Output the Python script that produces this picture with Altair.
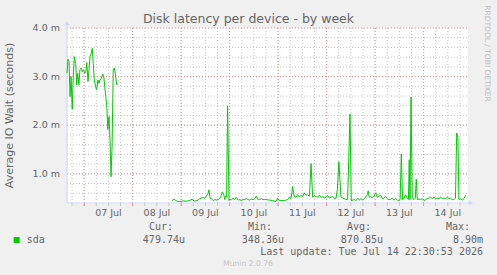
import altair as alt
import pandas as pd

# ---- data (hours relative to 07 Jul 00:00, value in milliseconds) ----
hours_a = [-8.5, -8.0, -7.5, -7.0, -6.5, -5.9, -5.4, -4.9, -4.2, -3.7, -3.2, -2.6, -2.1, -1.4, -0.9,
           -0.4, 0.3, 0.8, 1.3, 1.9, 2.4, 2.9, 3.5, 4.0, 4.5, 5.0, 5.7, 6.2, 6.8, 7.3, 7.8, 8.5,
           9.2, 9.7, 10.2, 10.7, 11.2, 11.7, 12.3, 12.8, 13.3, 13.8, 14.4, 14.9, 15.4, 16.1, 16.6]
wait_a = [3.07, 3.36, 3.31, 2.59, 3.00, 2.33, 3.00, 3.41, 3.27, 2.83, 3.07, 2.83, 3.14, 3.18, 3.10,
          3.14, 3.07, 3.10, 3.29, 2.90, 3.14, 3.41, 3.48, 3.58, 3.27, 2.93, 2.79, 2.73, 2.93, 2.86, 2.93, 2.97,
          3.05, 3.00, 2.79, 2.59, 2.38, 1.91, 2.18, 1.70, 0.94, 1.56, 3.14, 3.18, 3.07, 2.84, 2.84]

hours_b = [43.5, 44.5, 45.1, 46.1, 47.3, 48.9, 50.6, 52.2, 53.5, 54.4, 56.0, 57.2, 58.0, 58.8, 59.7,
           60.5, 61.3, 61.8, 62.3, 63.0, 63.8, 64.6, 65.4, 66.3, 67.1, 67.9, 68.4, 69.1, 69.6, 70.0,
           70.5, 71.0, 71.7, 72.2, 72.9, 73.7, 74.5, 75.3, 76.2, 77.0, 77.8, 78.6, 79.5, 80.3, 81.1,
           81.9, 82.8, 83.6, 84.4, 85.2, 86.1, 86.9, 87.7, 88.5, 89.4, 90.0, 91.7, 93.3, 95.0, 95.8,
           96.3, 97.4, 99.1, 100.7, 101.6, 102.4, 103.2, 103.9, 104.9, 105.7, 106.5, 107.3, 108.2, 109.0, 109.8,
           110.6, 111.5, 112.3, 113.1, 113.9, 114.8, 115.6, 116.4, 117.2, 118.1, 118.9, 119.7, 120.5, 121.4, 122.2,
           123.0, 123.8, 124.7, 125.3, 126.1, 127.1, 128.0, 128.8, 129.6, 130.4, 131.6, 132.2, 133.7, 134.6, 135.4,
           136.2, 137.0, 137.9, 138.5, 139.3, 140.2, 140.6, 141.1, 141.8, 142.6, 143.5, 144.3, 145.1, 145.9, 146.8,
           147.6, 148.4, 149.2, 150.1, 150.9, 151.7, 152.5, 153.4, 154.2, 155.0, 155.8, 156.4, 157.0, 157.6, 158.3,
           159.1, 160.0, 160.5, 160.9, 161.3, 161.8, 162.4, 163.2, 163.9, 164.4, 164.9, 165.7, 166.5, 167.4, 168.2,
           169.0, 169.9, 170.7, 171.5, 172.3, 173.2, 174.0, 174.8, 175.6, 176.5, 177.3, 178.1, 178.9, 179.8, 180.6,
           181.4, 182.2, 183.1, 183.8, 184.4, 185.0, 185.5, 186.3, 187.2, 188.0, 188.8]
wait_b = [0.45, 0.48, 0.46, 0.43, 0.43, 0.44, 0.44, 0.45, 0.48, 0.44, 0.45, 0.49, 0.50, 0.51, 0.50,
          0.54, 0.60, 0.67, 0.50, 0.49, 0.45, 0.47, 0.46, 0.47, 0.49, 0.56, 0.63, 0.57, 0.47, 0.54,
          0.52, 2.40, 0.45, 0.48, 0.46, 0.50, 0.47, 0.52, 0.46, 0.47, 0.45, 0.47, 0.47, 0.49, 0.47,
          0.46, 0.48, 0.47, 0.49, 0.54, 0.47, 0.47, 0.49, 0.47, 0.47, 0.47, 0.46, 0.45, 0.43, 0.50,
          0.46, 0.45, 0.45, 0.47, 0.52, 0.49, 0.74, 0.54, 0.52, 0.57, 0.52, 0.56, 0.53, 0.61, 0.56,
          0.57, 0.54, 1.21, 0.52, 0.56, 0.53, 0.52, 0.56, 0.52, 0.53, 0.50, 0.52, 0.56, 0.50, 0.52,
          0.53, 0.49, 0.50, 0.67, 1.25, 0.52, 0.50, 0.49, 0.47, 0.47, 2.23, 0.45, 0.47, 0.45, 0.50,
          0.46, 0.49, 0.46, 0.49, 0.52, 0.57, 0.65, 0.52, 0.54, 0.50, 0.54, 0.61, 0.52, 0.54, 0.56,
          0.49, 0.50, 0.53, 0.49, 0.47, 0.47, 0.50, 0.46, 0.49, 0.46, 0.45, 0.47, 1.41, 0.47, 0.49,
          0.57, 0.49, 0.47, 1.29, 0.47, 2.58, 0.52, 0.47, 0.50, 0.89, 0.47, 0.48, 0.47, 0.49, 0.45,
          0.47, 0.49, 0.50, 0.52, 0.49, 0.52, 0.49, 0.50, 0.49, 0.52, 0.49, 0.50, 0.49, 0.52, 0.49,
          0.50, 0.47, 0.47, 0.50, 1.84, 1.75, 0.47, 0.49, 0.46, 0.49, 0.56]

day_label_hours = [12, 36, 60, 84, 108, 132, 156, 180]
day_labels = ["07 Jul", "08 Jul", "09 Jul", "10 Jul", "11 Jul", "12 Jul", "13 Jul", "14 Jul"]
y_label_values = [1.0, 2.0, 3.0, 4.0]
y_labels = ["1.0 m", "2.0 m", "3.0 m", "4.0 m"]
major_x = [0, 24, 48, 72, 96, 120, 144, 168]
minor_x = [h for h in range(-6, 190, 6)]
major_y = [1.0, 2.0, 3.0, 4.0]
minor_y = [round(0.6 + 0.2 * i, 1) for i in range(17)]

title_text = "Disk latency per device - by week"
y_title = "Average IO Wait (seconds)"
series_name = "sda"
legend_heads = ["Cur:", "Min:", "Avg:", "Max:"]
legend_vals = ["479.74u", "348.36u", "870.85u", "8.90m"]
last_update = "Last update: Tue Jul 14 22:30:53 2026"
watermark = "RRDTOOL / TOBI OETIKER"
munin_ver = "Munin 2.0.76"

W, H = 400, 175
TXT = "#666666"
AXC = "#CFD6F8"
GREEN = "#00CC00"

df = pd.concat([
    pd.DataFrame({"hour": hours_a, "wait": wait_a, "seg": "a"}),
    pd.DataFrame({"hour": hours_b, "wait": wait_b, "seg": "b"}),
])

xs = alt.Scale(domain=[-8.5, 189.5], nice=False, zero=False)
ys = alt.Scale(domain=[0.4, 4.0], nice=False, zero=False)

def vrules(vals, color):
    return alt.Chart(pd.DataFrame({"h": vals})).mark_rule(
        color=color, strokeWidth=1, strokeDash=[1, 2]
    ).encode(x=alt.X("h:Q", scale=xs, axis=None))

def hrules(vals, color):
    return alt.Chart(pd.DataFrame({"v": vals})).mark_rule(
        color=color, strokeWidth=1, strokeDash=[1, 2]
    ).encode(y=alt.Y("v:Q", scale=ys, axis=None))

def ticks(vals, color):
    return alt.Chart(pd.DataFrame({"h": vals})).mark_rule(color=color, strokeWidth=1).encode(
        x=alt.X("h:Q", scale=xs, axis=None), y=alt.value(H), y2=alt.value(H + 3))

one = alt.Data(values=[{}])

def txt(text, x, y, size=10, font="DejaVu Sans Mono", align="left", color=TXT, angle=0, baseline="middle"):
    kw = dict(font=font, fontSize=size, align=align, baseline=baseline, color=color)
    if angle:
        kw["angle"] = angle
    return alt.Chart(one).mark_text(**kw).encode(
        x=alt.value(x), y=alt.value(y), text=alt.value(text))

grid = [
    vrules(minor_x, "#c4c4c4"),
    hrules(minor_y, "#c4c4c4"),
    vrules(major_x, "#e89090"),
    hrules(major_y, "#e89090"),
    ticks(minor_x, "#c4c4c4"),
    ticks(major_x, "#e89090"),
]

axes_lines = [
    alt.Chart(one).mark_rule(color=AXC, strokeWidth=1).encode(
        x=alt.value(0), y=alt.value(-4), y2=alt.value(H)),
    alt.Chart(one).mark_rule(color=AXC, strokeWidth=1).encode(
        x=alt.value(0), x2=alt.value(W + 3), y=alt.value(H)),
    alt.Chart(one).mark_point(shape="triangle-up", filled=True, color=AXC, size=22, opacity=1).encode(
        x=alt.value(0), y=alt.value(-5)),
    alt.Chart(one).mark_point(shape="triangle-right", filled=True, color=AXC, size=22, opacity=1).encode(
        x=alt.value(W + 4), y=alt.value(H)),
]

x_tick_labels = alt.Chart(pd.DataFrame({"h": day_label_hours, "lab": day_labels})).mark_text(
    font="DejaVu Sans", fontSize=9.5, color=TXT, align="center", baseline="middle"
).encode(x=alt.X("h:Q", scale=xs, axis=None), y=alt.value(H + 10), text="lab:N")

y_tick_labels = alt.Chart(pd.DataFrame({"v": y_label_values, "lab": y_labels})).mark_text(
    font="DejaVu Sans", fontSize=9.5, color=TXT, align="right", baseline="middle"
).encode(y=alt.Y("v:Q", scale=ys, axis=None), x=alt.value(-7), text="lab:N")

line = alt.Chart(df).mark_line(color=GREEN, strokeWidth=1).encode(
    x=alt.X("hour:Q", scale=xs, axis=None),
    y=alt.Y("wait:Q", scale=ys, axis=None),
    detail="seg:N",
)

texts = [
    txt(title_text, 181.5, -9.5, size=12.5, font="DejaVu Sans", align="center"),
    txt(y_title, -57, H / 2, size=11, font="DejaVu Sans", align="center", angle=270),
    txt(watermark, 420, 25.5, size=7.5, font="DejaVu Sans", align="center", angle=90, color="#c0c0c0"),
    txt(munin_ver, 181, 236, size=7.6, font="DejaVu Sans", align="center", color="#c4c4c4"),
    alt.Chart(one).mark_square(color=GREEN, size=36, opacity=1, filled=True).encode(
        x=alt.value(-50.3), y=alt.value(212)),
    txt(series_name, -40.3, 212),
    txt(last_update, 416, 224, align="right"),
]
head_right = [106, 205, 304, 403]
val_right = [118, 217, 316, 416]
for s, xr in zip(legend_heads, head_right):
    texts.append(txt(s, xr, 199, align="right"))
for s, xr in zip(legend_vals, val_right):
    texts.append(txt(s, xr, 212, align="right"))

chart = alt.layer(*grid, *axes_lines, line, x_tick_labels, y_tick_labels, *texts).properties(
    width=W, height=H,
    autosize="none",
    padding={"left": 67, "top": 28, "right": 30, "bottom": 72},
    background="#f0f0f0",
).configure_view(fill="white", stroke="transparent")

chart.save("out.html", embed_options={"renderer": "svg", "actions": False})
